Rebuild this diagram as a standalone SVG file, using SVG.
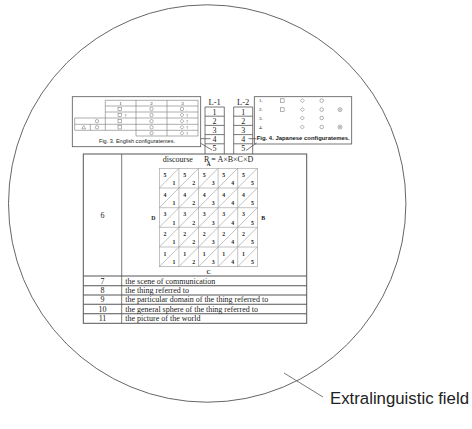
<svg xmlns="http://www.w3.org/2000/svg" width="472" height="429" viewBox="0 0 472 429">
  <style>
    .ln { fill: none; stroke: #555; stroke-width: 0.8; }
    .thin { fill: none; stroke: #777; stroke-width: 0.6; }
    .grid { fill: none; stroke: #999; stroke-width: 0.6; }
    .serif { font-family: "Liberation Serif", "Times New Roman", serif; fill: #222; }
    .sans { font-family: "Liberation Sans", Arial, sans-serif; fill: #222; }
    .sym { fill: none; stroke: #666; stroke-width: 0.5; }
    .num { font-family: "Liberation Serif", serif; font-size: 5.8px; font-weight: bold; fill: #222; text-anchor: middle; }
    .mid { text-anchor: middle; }
  </style>

  <!-- outer field -->
  <g id="field">
    <circle cx="207.2" cy="203.5" r="198.7" fill="none" stroke="#555" stroke-width="0.9"/>
  </g>

  <!-- Fig. 3 -->
  <g id="fig3">
    <rect class="ln" x="72.3" y="96.7" width="128.4" height="50"/>
    <g class="thin">
      <path d="M105.3 100.3H198 M105.3 106H198 M105.3 112H198 M74.7 118H198 M74.7 124.3H198 M74.7 130.3H198 M136 136H198"/>
      <path d="M105.3 100.3V130.3 M136 100.3V136 M167 100.3V136 M198 100.3V136 M74.7 118V130.3 M90.3 124.3V130.3"/>
    </g>
    <g class="serif" font-size="5" text-anchor="middle">
      <text x="120.6" y="105">1</text>
      <text x="151.5" y="105">2</text>
      <text x="182.5" y="105">3</text>
    </g>
    <g class="sym">
      <rect x="118" y="107.3" width="3.4" height="3.4"/>
      <rect x="118" y="113.3" width="3.4" height="3.4"/>
      <rect x="118" y="119.5" width="3.4" height="3.4"/>
      <rect x="118" y="125.6" width="3.4" height="3.4"/>
      <circle cx="151.5" cy="109" r="1.7"/>
      <circle cx="151.5" cy="115" r="1.7"/>
      <circle cx="151.5" cy="121.2" r="1.7"/>
      <circle cx="151.5" cy="127.3" r="1.7"/>
      <circle cx="151.5" cy="133.2" r="1.7"/>
      <circle cx="182" cy="109" r="1.7"/>
      <path d="M182 113.1l1.9 1.9-1.9 1.9-1.9-1.9z M182 119.3l1.9 1.9-1.9 1.9-1.9-1.9z M182 125.4l1.9 1.9-1.9 1.9-1.9-1.9z M182 131.3l1.9 1.9-1.9 1.9-1.9-1.9z"/>
      <circle cx="97" cy="121.2" r="1.7"/>
      <circle cx="97" cy="127.3" r="1.7"/>
      <path d="M83.7 125.5l1.9 3.3h-3.8z"/>
    </g>
    <g class="serif" font-size="4.5" fill="#444">
      <text x="124.5" y="116.5">†</text>
      <text x="186" y="110.5">.</text>
      <text x="186" y="116.5">†</text>
      <text x="186" y="122.7">†</text>
      <text x="186" y="128.8">†</text>
      <text x="186" y="134.7">†</text>
    </g>
    <text class="sans" x="99" y="143.3" font-size="5.4" textLength="76" lengthAdjust="spacingAndGlyphs">Fig. 3. English configuratemes.</text>
  </g>

  <!-- L-1 column -->
  <g id="l1">
    <text class="serif mid" x="214.6" y="105" font-size="8.5">L-1</text>
    <path class="ln" d="M205 107H224.3V154 M205 107V154 M205 116.2H224.3 M205 125.4H224.3 M205 134.6H224.3 M205 143.8H224.3"/>
    <g class="serif mid" font-size="8">
      <text x="214.6" y="114.5">1</text>
      <text x="214.6" y="123.7">2</text>
      <text x="214.6" y="132.9">3</text>
      <text x="214.6" y="142.1">4</text>
      <text x="214.6" y="151.3">5</text>
    </g>
  </g>

  <!-- L-2 column -->
  <g id="l2">
    <text class="serif mid" x="243.2" y="105" font-size="8.5">L-2</text>
    <path class="ln" d="M233.7 107H252.7V154 M233.7 107V154 M233.7 116.2H252.7 M233.7 125.4H252.7 M233.7 134.6H252.7 M233.7 143.8H252.7"/>
    <g class="serif mid" font-size="8">
      <text x="243.2" y="114.5">1</text>
      <text x="243.2" y="123.7">2</text>
      <text x="243.2" y="132.9">3</text>
      <text x="243.2" y="142.1">4</text>
      <text x="243.2" y="151.3">5</text>
    </g>
  </g>

  <!-- Fig. 4 -->
  <g id="fig4">
    <rect class="ln" x="254.3" y="96.7" width="97.4" height="47.3"/>
    <g class="serif" font-size="5">
      <text x="259" y="102.3">1.</text>
      <text x="259" y="111.3">2.</text>
      <text x="259" y="119.6">3.</text>
      <text x="259" y="128.6">4.</text>
    </g>
    <g class="sym">
      <rect x="280.5" y="98.8" width="3.6" height="3.6"/>
      <rect x="280.5" y="107.8" width="3.6" height="3.6"/>
      <path d="M302.3 98.6l2 2-2 2-2-2z M302.3 107.6l2 2-2 2-2-2z M302.3 116l2 2-2 2-2-2z M302.3 125l2 2-2 2-2-2z"/>
      <circle cx="321.7" cy="100.6" r="1.8"/>
      <circle cx="321.7" cy="109.6" r="1.8"/>
      <circle cx="321.7" cy="118" r="1.8"/>
      <circle cx="321.7" cy="127" r="1.8"/>
      <circle cx="340" cy="109.6" r="2"/>
      <circle cx="340" cy="127" r="2"/>
    </g>
    <circle cx="340" cy="109.6" r="1.2" fill="#bbb"/>
    <circle cx="340" cy="127" r="1.2" fill="#bbb"/>
    <text class="sans" x="256.7" y="140.3" font-size="6" font-weight="bold" textLength="93" lengthAdjust="spacingAndGlyphs">Fig. 4. Japanese configuratemes.</text>
  </g>

  <!-- pointer lines between captions and levels -->
  <g id="connectors" class="ln">
    <path d="M200.7 138.7H210.5"/>
    <path d="M200.7 143.3L212 150"/>
    <path d="M248.5 138.7H256.5"/>
    <path d="M256.5 143L246 150.5"/>
    <path d="M284 373L323 397"/>
  </g>

  <!-- main table -->
  <g id="table">
    <rect x="83.3" y="154" width="223.4" height="169.3" fill="none" stroke="#555" stroke-width="1"/>
    <path d="M121.7 154V323.3" class="ln"/>
    <path d="M83.3 276H306.7 M83.3 285.7H306.7 M83.3 295H306.7 M83.3 304.3H306.7 M83.3 313.7H306.7" fill="none" stroke="#555" stroke-width="1.1"/>
    <text class="serif mid" x="102.5" y="218" font-size="8">6</text>
    <g class="serif mid" font-size="8">
      <text x="102.5" y="283.5">7</text>
      <text x="102.5" y="293">8</text>
      <text x="102.5" y="302.3">9</text>
      <text x="102.5" y="311.6">10</text>
      <text x="102.5" y="321">11</text>
    </g>
    <g class="serif" font-size="8">
      <text x="125.3" y="283.5">the scene of communication</text>
      <text x="125.3" y="293">the thing referred to</text>
      <text x="125.3" y="302.3">the particular domain of the thing referred to</text>
      <text x="125.3" y="311.6">the general sphere of the thing referred to</text>
      <text x="125.3" y="321">the picture of the world</text>
    </g>
    <text class="serif" x="162.7" y="161.8" font-size="8">discourse</text>
    <text class="serif" x="204" y="161.8" font-size="8">R = A×B×C×D</text>
  </g>

  <!-- discourse grid -->
  <g id="grid">
    <g class="grid">
      <rect x="159.3" y="168.3" width="98" height="98.4"/>
      <path d="M178.9 168.3V266.7 M198.5 168.3V266.7 M218.1 168.3V266.7 M237.7 168.3V266.7"/>
      <path d="M159.3 188H257.3 M159.3 207.7H257.3 M159.3 227.3H257.3 M159.3 247H257.3"/>
      <path d="M159.3 188L178.9 168.3 M178.9 188L198.5 168.3 M198.5 188L218.1 168.3 M218.1 188L237.7 168.3 M237.7 188L257.3 168.3"/>
      <path d="M159.3 207.7L178.9 188 M178.9 207.7L198.5 188 M198.5 207.7L218.1 188 M218.1 207.7L237.7 188 M237.7 207.7L257.3 188"/>
      <path d="M159.3 227.3L178.9 207.7 M178.9 227.3L198.5 207.7 M198.5 227.3L218.1 207.7 M218.1 227.3L237.7 207.7 M237.7 227.3L257.3 207.7"/>
      <path d="M159.3 247L178.9 227.3 M178.9 247L198.5 227.3 M198.5 247L218.1 227.3 M218.1 247L237.7 227.3 M237.7 247L257.3 227.3"/>
      <path d="M159.3 266.7L178.9 247 M178.9 266.7L198.5 247 M198.5 266.7L218.1 247 M218.1 266.7L237.7 247 M237.7 266.7L257.3 247"/>
    </g>
    <!-- top-left numbers: rows 5..1 -->
    <g class="num">
      <text x="165" y="177">5</text><text x="184.6" y="177">5</text><text x="204.2" y="177">5</text><text x="223.8" y="177">5</text><text x="243.4" y="177">5</text>
      <text x="165" y="196.7">4</text><text x="184.6" y="196.7">4</text><text x="204.2" y="196.7">4</text><text x="223.8" y="196.7">4</text><text x="243.4" y="196.7">4</text>
      <text x="165" y="216.4">3</text><text x="184.6" y="216.4">3</text><text x="204.2" y="216.4">3</text><text x="223.8" y="216.4">3</text><text x="243.4" y="216.4">3</text>
      <text x="165" y="236">2</text><text x="184.6" y="236">2</text><text x="204.2" y="236">2</text><text x="223.8" y="236">2</text><text x="243.4" y="236">2</text>
      <text x="165" y="255.7">1</text><text x="184.6" y="255.7">1</text><text x="204.2" y="255.7">1</text><text x="223.8" y="255.7">1</text><text x="243.4" y="255.7">1</text>
    </g>
    <!-- bottom-right numbers: columns 1..5 -->
    <g class="num">
      <text x="174" y="185.3">1</text><text x="193.6" y="185.3">2</text><text x="213.2" y="185.3">3</text><text x="232.8" y="185.3">4</text><text x="252.4" y="185.3">5</text>
      <text x="174" y="205">1</text><text x="193.6" y="205">2</text><text x="213.2" y="205">3</text><text x="232.8" y="205">4</text><text x="252.4" y="205">5</text>
      <text x="174" y="224.6">1</text><text x="193.6" y="224.6">2</text><text x="213.2" y="224.6">3</text><text x="232.8" y="224.6">4</text><text x="252.4" y="224.6">5</text>
      <text x="174" y="244.3">1</text><text x="193.6" y="244.3">2</text><text x="213.2" y="244.3">3</text><text x="232.8" y="244.3">4</text><text x="252.4" y="244.3">5</text>
      <text x="174" y="264">1</text><text x="193.6" y="264">2</text><text x="213.2" y="264">3</text><text x="232.8" y="264">4</text><text x="252.4" y="264">5</text>
    </g>
    <g class="num" font-size="6">
      <text x="208.5" y="166.3">A</text>
      <text x="208.5" y="273.8">C</text>
      <text x="153.3" y="220.3">D</text>
      <text x="263.3" y="220.3">B</text>
    </g>
  </g>

  <!-- field label -->
  <g id="label">
    <text class="sans" x="330" y="404" font-size="16.8" fill="#222">Extralinguistic field</text>
  </g>
</svg>
